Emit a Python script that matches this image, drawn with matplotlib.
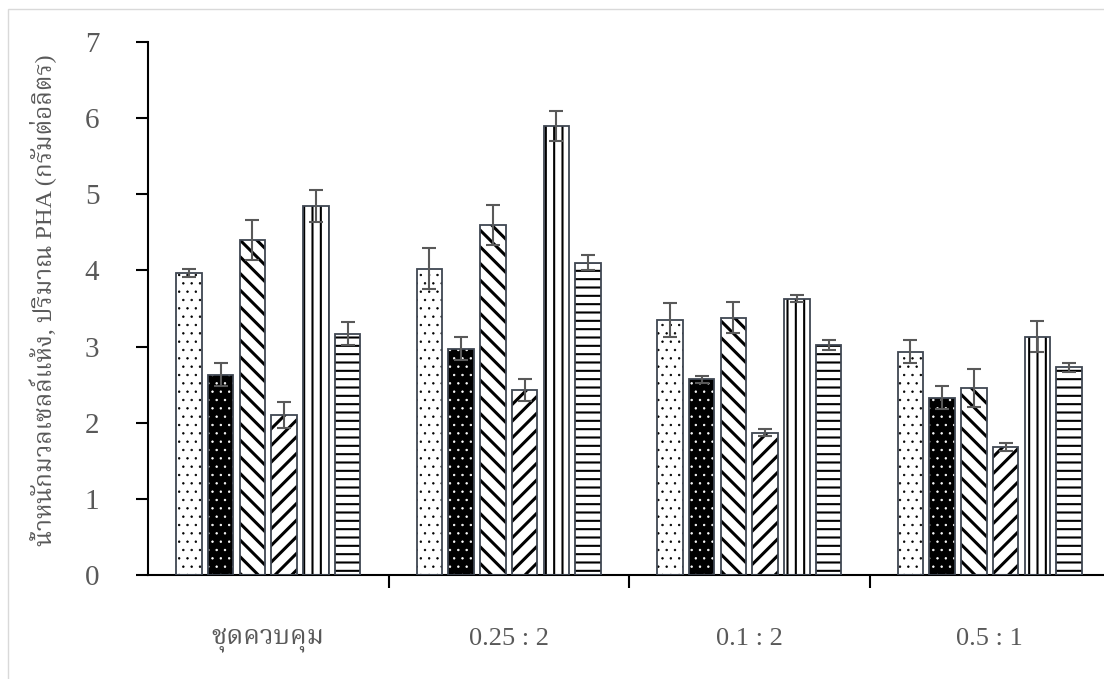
import numpy as np
import matplotlib
matplotlib.use("Agg")
import matplotlib.pyplot as plt
from matplotlib import font_manager
from matplotlib.patches import Rectangle

categories = ["ชุดควบคุม", "0.25 : 2", "0.1 : 2", "0.5 : 1"]
y_label = "น้ำหนักมวลเซลล์แห้ง, ปริมาณ PHA (กรัมต่อลิตร)"

# one list per bar pattern, values per category
s_dots = [3.97, 4.02, 3.35, 2.93]
s_dots_err = [0.05, 0.27, 0.22, 0.15]
s_black = [2.63, 2.97, 2.57, 2.33]
s_black_err = [0.15, 0.15, 0.05, 0.15]
s_back = [4.40, 4.60, 3.38, 2.46]
s_back_err = [0.26, 0.26, 0.20, 0.25]
s_fwd = [2.10, 2.43, 1.87, 1.68]
s_fwd_err = [0.17, 0.15, 0.05, 0.05]
s_vert = [4.85, 5.90, 3.63, 3.13]
s_vert_err = [0.21, 0.20, 0.05, 0.20]
s_horz = [3.17, 4.10, 3.02, 2.73]
s_horz_err = [0.15, 0.10, 0.06, 0.06]

series = [
    (s_dots, s_dots_err, "white", "black", "..", 0.5),
    (s_black, s_black_err, "black", "white", "..", 0.5),
    (s_back, s_back_err, "white", "black", "\\\\", 2.2),
    (s_fwd, s_fwd_err, "white", "black", "//", 2.2),
    (s_vert, s_vert_err, "white", "black", "||", 1.5),
    (s_horz, s_horz_err, "white", "black", "--", 1.5),
]


def find_thai_font():
    try:
        from fontTools.ttLib import TTFont
    except ImportError:
        return None
    found = []
    for f in font_manager.fontManager.ttflist:
        try:
            cmap = TTFont(f.fname, fontNumber=0, lazy=True).getBestCmap()
        except Exception:
            continue
        if cmap and 0x0E0A in cmap:
            found.append(f.name)
    if not found:
        return None
    for pref in ["Noto Serif Thai", "Noto Sans Thai", "Tlwg Typo", "Garuda"]:
        if pref in found:
            return pref
    return found[0]


thai = find_thai_font()
families = ["Liberation Serif"] + ([thai] if thai else []) + ["DejaVu Sans"]
plt.rcParams["font.family"] = families

fig = plt.figure(figsize=(11.04, 6.79), dpi=100)
ax = fig.add_axes([148 / 1104, 1 - 575 / 679, 962 / 1104, 533 / 679])

# light chart-area border
fig.patches.append(Rectangle((8 / 1104, -0.1), 1.2, 1 - 9 / 679 + 0.1,
                             transform=fig.transFigure, fill=False,
                             edgecolor="#d9d9d9", linewidth=1.0))

x = np.arange(len(categories))
pitch = 0.132
width = 0.107
for i, (vals, errs, face, hatch_col, hatch, hlw) in enumerate(series):
    pos = x + (i - 2.5) * pitch
    with plt.rc_context({"hatch.linewidth": hlw}):
        ax.bar(pos, vals, width, color=face, edgecolor=hatch_col,
               hatch=hatch, linewidth=0, zorder=2)
    ax.bar(pos, vals, width, fill=False, edgecolor="#3f4652",
           linewidth=1.3, zorder=3)
    ax.errorbar(pos, vals, yerr=errs, fmt="none", ecolor="#595959",
                elinewidth=1.5, capsize=5, capthick=1.5, zorder=4)

ax.set_xlim(-0.5, 3.5)
ax.set_ylim(0, 7)
ax.set_yticks(range(8))
ax.set_xticks(x)
ax.set_xticklabels(categories)
ax.set_xticks(np.arange(0.5, 3.5, 1), minor=True)
ax.tick_params(axis="x", which="major", length=0, pad=38,
               labelsize=19, labelcolor="#595959")
ax.tick_params(axis="x", which="minor", length=9, width=1.5, direction="out")
ax.tick_params(axis="y", length=9, width=1.5, direction="out", pad=26,
               labelsize=21, labelcolor="#595959")
for s in ["top", "right"]:
    ax.spines[s].set_visible(False)
for s in ["left", "bottom"]:
    ax.spines[s].set_linewidth(1.5)

fig.text(43 / 1104, 1 - 300 / 679, y_label, rotation=90, ha="center",
         va="center", fontsize=17.5, color="#595959")

fig.savefig("out.png", dpi=100)
